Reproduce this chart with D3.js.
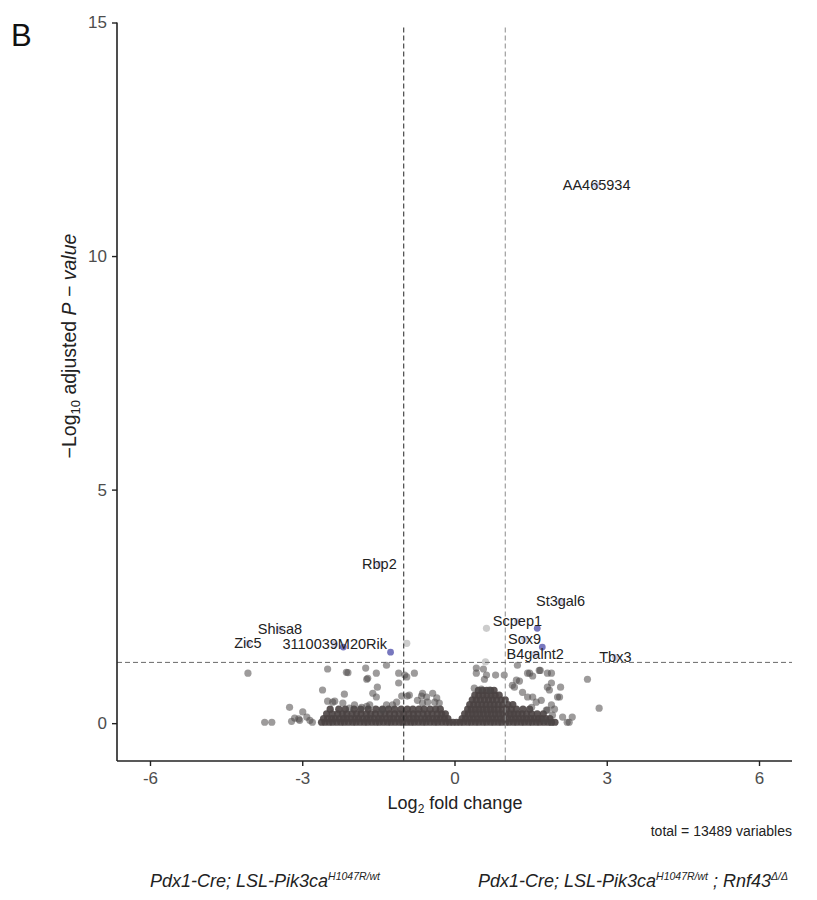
<!DOCTYPE html>
<html>
<head>
<meta charset="utf-8">
<title>Volcano</title>
<script src="https://d3js.org/d3.v7.min.js"></script>
<style>
	body { margin:0; background:#fff; }
	text { font-family: 'Liberation Sans', Arial, sans-serif; }
</style>
</head>
<body>
<div id='plot'></div>
<script>
	// axis ticks and cut-offs
	var xTicks = [-6, -3, 0, 3, 6]
	var yTicks = [0, 5, 10, 15]
	var fcCut = 1
	var pCut = 1.301
	var totalVars = 13489

	// scattered non significant genes [log2FC, -log10 padj]
	var nsPoints = [
		[-4.07,1.07],[-2.50,1.16],[-2.13,1.09],[-2.10,1.08],[-1.75,1.18],[-1.54,1.07],[-1.34,1.24],[-1.10,1.07],
		[-0.94,0.99],[-0.79,1.07],[-0.98,1.03],[-1.73,0.94],[-1.71,0.96],[-1.52,0.77],[-2.60,0.71],[-2.17,0.62],
		[-1.61,0.64],[-1.54,0.56],[-1.04,0.58],[-0.93,0.58],[-0.65,0.58],[-0.55,0.56],[-0.43,0.64],[-0.35,0.54],
		[-2.50,0.47],[-2.36,0.47],[-3.25,0.34],[-2.99,0.24],[-3.74,0.02],[-3.60,0.02],[-3.21,0.04],[-3.15,0.11],
		[-3.07,0.09],[-2.91,0.13],[-2.85,0.06],[-2.80,0.02],[-3.05,0.06],[-2.07,0.32],[-1.97,0.39],[-1.83,0.34],
		[-1.67,0.39],[-1.42,0.28],[-1.22,0.39],[-1.14,0.45],[-2.40,0.45],[-2.20,0.43],[-1.73,0.36],[-1.34,0.39],
		[-1.10,0.86],[-0.89,0.60],[-0.73,0.49],[-0.63,0.64],[-0.53,0.45],[-0.39,0.45],[-0.30,0.43],[-0.63,0.43],
		[0.43,1.18],[0.57,1.16],[0.43,1.07],[0.59,0.94],[0.81,1.03],[0.98,1.03],[0.63,1.03],[0.39,0.75],
		[0.53,0.73],[0.69,0.71],[1.24,1.24],[1.44,1.07],[1.54,1.01],[1.69,1.13],[1.91,1.07],[1.28,0.90],
		[1.18,0.77],[1.87,0.71],[1.71,0.49],[1.44,0.56],[1.52,0.34],[1.81,0.28],[1.77,0.06],[1.91,0.02],
		[2.62,0.94],[2.85,0.32],[2.09,0.77],[1.91,0.86],[2.03,0.56],[1.91,0.39],[1.97,0.30],[1.93,0.17],
		[2.13,0.13],[2.32,0.13],[2.22,0.02],[1.14,0.81],[1.22,0.92],[1.34,0.66],[1.54,0.56],[1.61,0.45],
		[1.48,1.07],[1.67,1.13],[1.83,0.77],[1.83,1.07],[2.07,0.56],[1.83,0.28],[2.26,0.02]
	]

	// dense cloud near zero, one row of log2FC values per -log10 padj level
	var denseLevels = [0.02, 0.10, 0.20, 0.30, 0.40, 0.50, 0.60, 0.70]
	var dense0 = [-2.62,-2.55,-2.47,-2.40,-2.32,-2.24,-2.17,-2.09,-2.01,-1.94,-1.86,-1.78,-1.71,-1.63,-1.55,-1.48,
		-1.40,-1.32,-1.25,-1.17,-1.09,-1.02,-0.94,-0.86,-0.79,-0.71,-0.63,-0.56,-0.48,-0.40,-0.33,-0.25,-0.17,-0.10,
		-0.03,0.04,0.11,0.18,0.26,0.33,0.41,0.48,0.56,0.63,0.71,0.78,0.86,0.93,1.01,1.08,1.16,1.23,1.31,1.38,1.46,
		1.53,1.61,1.68,1.76,1.84,1.91,1.98]
	var dense1 = [-2.58,-2.50,-2.42,-2.35,-2.27,-2.19,-2.12,-2.04,-1.96,-1.89,-1.81,-1.73,-1.66,-1.58,-1.50,-1.43,
		-1.35,-1.27,-1.20,-1.12,-1.04,-0.97,-0.89,-0.81,-0.74,-0.66,-0.58,-0.51,-0.43,-0.35,-0.28,-0.20,-0.13,
		0.15,0.22,0.30,0.37,0.45,0.52,0.60,0.67,0.75,0.82,0.90,0.97,1.05,1.12,1.20,1.27,1.35,1.42,1.50,1.57,1.65,
		1.72,1.80,1.88]
	var dense2 = [-2.52,-2.41,-2.30,-2.21,-2.12,-2.02,-1.93,-1.84,-1.74,-1.65,-1.56,-1.46,-1.37,-1.28,-1.18,-1.09,
		-1.00,-0.90,-0.81,-0.72,-0.62,-0.53,-0.44,-0.34,-0.25,-0.18,
		0.20,0.27,0.35,0.42,0.50,0.57,0.65,0.72,0.80,0.87,0.95,1.02,1.10,1.17,1.25,1.33,1.42,1.52,1.63,1.75]
	var dense3 = [-2.45,-2.28,-2.15,-1.98,-1.85,-1.70,-1.55,-1.42,-1.30,-1.18,-1.05,-0.93,-0.82,-0.70,-0.60,-0.48,
		-0.37,-0.28,0.26,0.33,0.41,0.48,0.56,0.63,0.71,0.78,0.86,0.94,1.03,1.12,1.22,1.35,1.48]
	var dense4 = [0.30,0.38,0.46,0.54,0.62,0.70,0.78,0.86,0.95,1.05,1.15]
	var dense5 = [0.35,0.43,0.51,0.59,0.67,0.75,0.83,0.92,1.00]
	var dense6 = [0.40,0.48,0.56,0.64,0.72,0.80,0.88]
	var dense7 = [0.47,0.55,0.63,0.71,0.78]
	var denseRows = [dense0, dense1, dense2, dense3, dense4, dense5, dense6, dense7]

	// light grey genes
	var greyPoints = [[-0.94,1.71],[0.63,2.03],[0.61,1.31]]

	// significant genes not hidden by a label
	var sigFC = [1.63, 1.73, -1.26, -2.19]
	var sigP  = [2.03, 1.63, 1.52, 1.63]

	// labelled genes (point sits under its label)
	var labGenes = ['AA465934','Rbp2','St3gal6','Scpep1','Shisa8','Zic5','3110039M20Rik','Sox9','B4galnt2','Tbx3']
	var labFC    = [2.80, -1.48, 2.09, 1.24, -3.44, -4.07, -2.36, 1.38, 1.59, 3.17]
	var labP     = [11.52, 3.40, 2.61, 2.18, 2.01, 1.71, 1.69, 1.80, 1.48, 1.41]

	var W = 817, H = 900
	var svg = d3.select('#plot').append('svg')
				.attr('width', W)
				.attr('height', H)

	var xScale = d3.scaleLinear().domain([-6.65, 6.65]).range([117, 792])
	var yScale = d3.scaleLinear().domain([-0.81, 15]).range([761, 22.5])

	var densePts = []
	denseRows.forEach(function(row, i){
		row.forEach(function(v){ densePts.push([v, denseLevels[i]]) })
	})

	// dense cloud (heavily overplotted)
	svg.append('g').selectAll('circle')
		.data(densePts).enter()
		.append('circle')
			.attr('cx', function(d){return xScale(d[0])})
			.attr('cy', function(d){return yScale(d[1])})
			.attr('r', 3.6)
			.attr('fill', '#4a4342')
			.attr('fill-opacity', 0.9)

	svg.append('g').selectAll('circle')
		.data(nsPoints).enter()
		.append('circle')
			.attr('cx', function(d){return xScale(d[0])})
			.attr('cy', function(d){return yScale(d[1])})
			.attr('r', 3.6)
			.attr('fill', '#4d4848')
			.attr('fill-opacity', 0.55)

	svg.append('g').selectAll('circle')
		.data(greyPoints).enter()
		.append('circle')
			.attr('cx', function(d){return xScale(d[0])})
			.attr('cy', function(d){return yScale(d[1])})
			.attr('r', 3.6)
			.attr('fill', '#cccccc')

	svg.append('g').selectAll('circle')
		.data(sigFC).enter()
		.append('circle')
			.attr('cx', function(d){return xScale(d)})
			.attr('cy', function(d, i){return yScale(sigP[i])})
			.attr('r', 3.4)
			.attr('fill', '#4a4aa8')
			.attr('fill-opacity', 0.75)

	svg.append('g').selectAll('circle')
		.data(labFC).enter()
		.append('circle')
			.attr('cx', function(d){return xScale(d)})
			.attr('cy', function(d, i){return yScale(labP[i])})
			.attr('r', 3.4)
			.attr('fill', '#4a4aa8')
			.attr('fill-opacity', 0.25)

	// cut-off lines
	var lines = svg.append('g').attr('fill', 'none').attr('stroke-dasharray', '5,3')
	lines.append('line')
		.attr('x1', xScale(-fcCut)).attr('x2', xScale(-fcCut))
		.attr('y1', yScale(15) + 5).attr('y2', 761)
		.attr('stroke', '#222').attr('stroke-width', 1)
	lines.append('line')
		.attr('x1', xScale(fcCut)).attr('x2', xScale(fcCut))
		.attr('y1', yScale(15) + 5).attr('y2', 761)
		.attr('stroke', '#8a8a8a').attr('stroke-width', 1)
	lines.append('line')
		.attr('x1', 117).attr('x2', 792)
		.attr('y1', yScale(pCut)).attr('y2', yScale(pCut))
		.attr('stroke', '#6a6a6a').attr('stroke-width', 1)

	// gene labels
	svg.append('g').selectAll('text')
		.data(labGenes).enter()
		.append('text')
			.attr('x', function(d, i){return xScale(labFC[i])})
			.attr('y', function(d, i){return yScale(labP[i])})
			.attr('dy', '0.35em')
			.attr('text-anchor', 'middle')
			.attr('font-size', '14.5px')
			.attr('fill', '#222')
			.text(function(d){return d})

	// axes
	var xAxis = svg.append('g')
		.attr('transform', 'translate(0,761)')
		.call(d3.axisBottom(xScale).tickValues(xTicks).tickSize(5).tickPadding(6))
	var yAxis = svg.append('g')
		.attr('transform', 'translate(117,0)')
		.call(d3.axisLeft(yScale).tickValues(yTicks).tickSize(5).tickPadding(5))
	xAxis.select('.domain').attr('d', 'M117,0H792').attr('stroke', '#222').attr('stroke-width', 1.6)
	yAxis.select('.domain').attr('d', 'M0,22.5V761').attr('stroke', '#222').attr('stroke-width', 1.6)
	svg.selectAll('.tick line').attr('stroke', '#222').attr('stroke-width', 1.4)
	svg.selectAll('.tick text').attr('font-size', '17px').attr('fill', '#4d4d4d')
		.attr('font-family', "'Liberation Sans', Arial, sans-serif")
		.text(function(d){ return d < 0 ? '-' + Math.abs(d) : d })

	// axis titles
	var xt = svg.append('text')
		.attr('x', 455).attr('y', 809)
		.attr('text-anchor', 'middle')
		.attr('font-size', '18px')
		.attr('fill', '#222')
	xt.append('tspan').text('Log')
	xt.append('tspan').attr('font-size', '12px').attr('dy', 4).text('2')
	xt.append('tspan').attr('dy', -4).text(' fold change')

	var yt = svg.append('text')
		.attr('transform', 'translate(76,346) rotate(-90)')
		.attr('text-anchor', 'middle')
		.attr('font-size', '19.5px')
		.attr('fill', '#222')
	yt.append('tspan').text('\u2212Log')
	yt.append('tspan').attr('font-size', '13px').attr('dy', 4).text('10')
	yt.append('tspan').attr('dy', -4).text(' adjusted ')
	yt.append('tspan').attr('font-style', 'italic').text('P\u00a0\u2212\u00a0value')

	svg.append('text')
		.attr('x', 792).attr('y', 836)
		.attr('text-anchor', 'end')
		.attr('font-size', '14px')
		.attr('fill', '#222')
		.text('total = ' + totalVars + ' variables')

	// panel letter
	svg.append('text')
		.attr('x', 11).attr('y', 46)
		.attr('font-size', '31px')
		.attr('font-family', 'Lato, sans-serif')
		.attr('fill', '#111')
		.text('B')

	// genotype captions
	var c1 = svg.append('text')
		.attr('x', 150).attr('y', 887)
		.attr('font-size', '18px')
		.attr('font-style', 'italic')
		.attr('fill', '#222')
	c1.append('tspan').text('Pdx1-Cre; LSL-Pik3ca')
	c1.append('tspan').attr('font-size', '10.5px').attr('dy', -7).text('H1047R/wt')

	var c2 = svg.append('text')
		.attr('x', 478).attr('y', 887)
		.attr('font-size', '18px')
		.attr('font-style', 'italic')
		.attr('fill', '#222')
	c2.append('tspan').text('Pdx1-Cre; LSL-Pik3ca')
	c2.append('tspan').attr('font-size', '10.5px').attr('dy', -7).text('H1047R/wt')
	c2.append('tspan').attr('dy', 7).text(' ; Rnf43')
	c2.append('tspan').attr('font-size', '10.5px').attr('dy', -7).text('\u0394/\u0394')
</script>
</body>
</html>
